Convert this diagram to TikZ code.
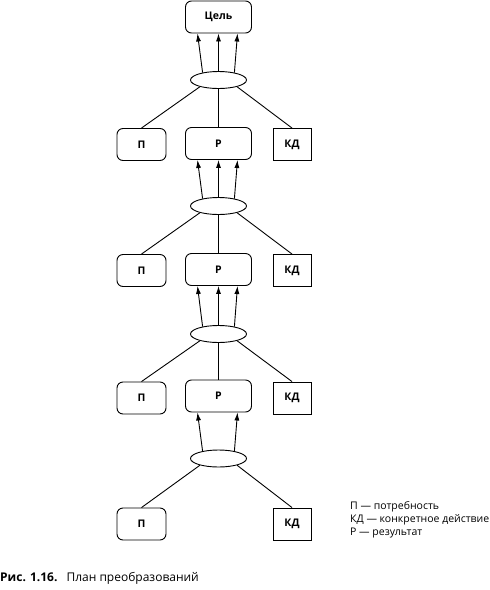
\documentclass[tikz,border=0pt]{standalone}
\usepackage{fontspec}
\setmainfont{Open Sans}
\usetikzlibrary{arrows.meta,shapes.geometric,calc}
\begin{document}
\begin{tikzpicture}[x=1pt,y=-1pt,
  every node/.style={inner sep=0pt},
  base/.style={draw,line width=0.9pt,minimum height=32pt,font=\bfseries\fontsize{10.5}{12}\selectfont},
  rbox/.style={base,rounded corners=6pt},
  pbox/.style={rbox,minimum width=49pt},
  resbox/.style={rbox,minimum width=66pt},
  kdbox/.style={base,minimum width=38pt},
  oval/.style={draw,line width=0.9pt,ellipse,minimum width=56pt,minimum height=17pt},
  arr/.style={line width=0.9pt,-{Latex[length=8pt,width=5pt]}},
  ln/.style={line width=0.9pt},
  legtext/.style={anchor=base west,font=\fontsize{10.5}{12}\selectfont}]
\useasboundingbox (0,0) rectangle (490,590);
% nodes
\node[resbox,minimum height=32pt] (goal) at (218.5,17) {Цель};
\node[oval] (e1) at (218.5,80) {};
\node[pbox] (p1) at (141.5,144.5) {П};
\node[resbox] (r1) at (218.5,143.5) {Р};
\node[kdbox] (k1) at (292,144.5) {КД};
\node[oval] (e2) at (218.5,206) {};
\node[pbox] (p2) at (141.5,270.5) {П};
\node[resbox] (r2) at (218.5,269.5) {Р};
\node[kdbox] (k2) at (292,270.5) {КД};
\node[oval] (e3) at (218.5,334) {};
\node[pbox] (p3) at (141.5,398) {П};
\node[resbox] (r3) at (218.5,396) {Р};
\node[kdbox] (k3) at (292,398) {КД};
\node[oval] (e4) at (218.5,458.5) {};
\node[pbox] (p4) at (141.5,524) {П};
\node[kdbox] (k4) at (292,524) {КД};
% arrows up
\foreach \e/\t in {e1/goal,e2/r1,e3/r2}{
  \draw[arr] (\e.155) -- ($(\t.south)+(-21,0)$);
  \draw[arr] (\e.north) -- (\t.south);
  \draw[arr] (\e.25) -- ($(\t.south)+(19,0)$);
}
\draw[arr] (e4.155) -- ($(r3.south)+(-21,0)$);
\draw[arr] (e4.25) -- ($(r3.south)+(19,0)$);
% lines down
\foreach \e/\p/\r/\k in {e1/p1/r1/k1,e2/p2/r2/k2,e3/p3/r3/k3}{
  \draw[ln] (\e.200) -- (\p.north);
  \draw[ln] (\e.south) -- (\r.north);
  \draw[ln] (\e.340) -- (\k.north);
}
\draw[ln] (e4.200) -- (p4.north);
\draw[ln] (e4.340) -- (k4.north);
% legend
\node[legtext] (leg1) at (350,509.5) {П — потребность};
\node[legtext] (leg2) at (350,522.5) {КД — конкретное действие};
\node[legtext] (leg3) at (350,535.5) {Р — результат};
% caption
\node[anchor=base west,font=\fontsize{12}{14}\selectfont] (cap) at (0,581) {\textbf{Рис. 1.16.}\hspace{9pt}План преобразований};
\end{tikzpicture}
\end{document}
